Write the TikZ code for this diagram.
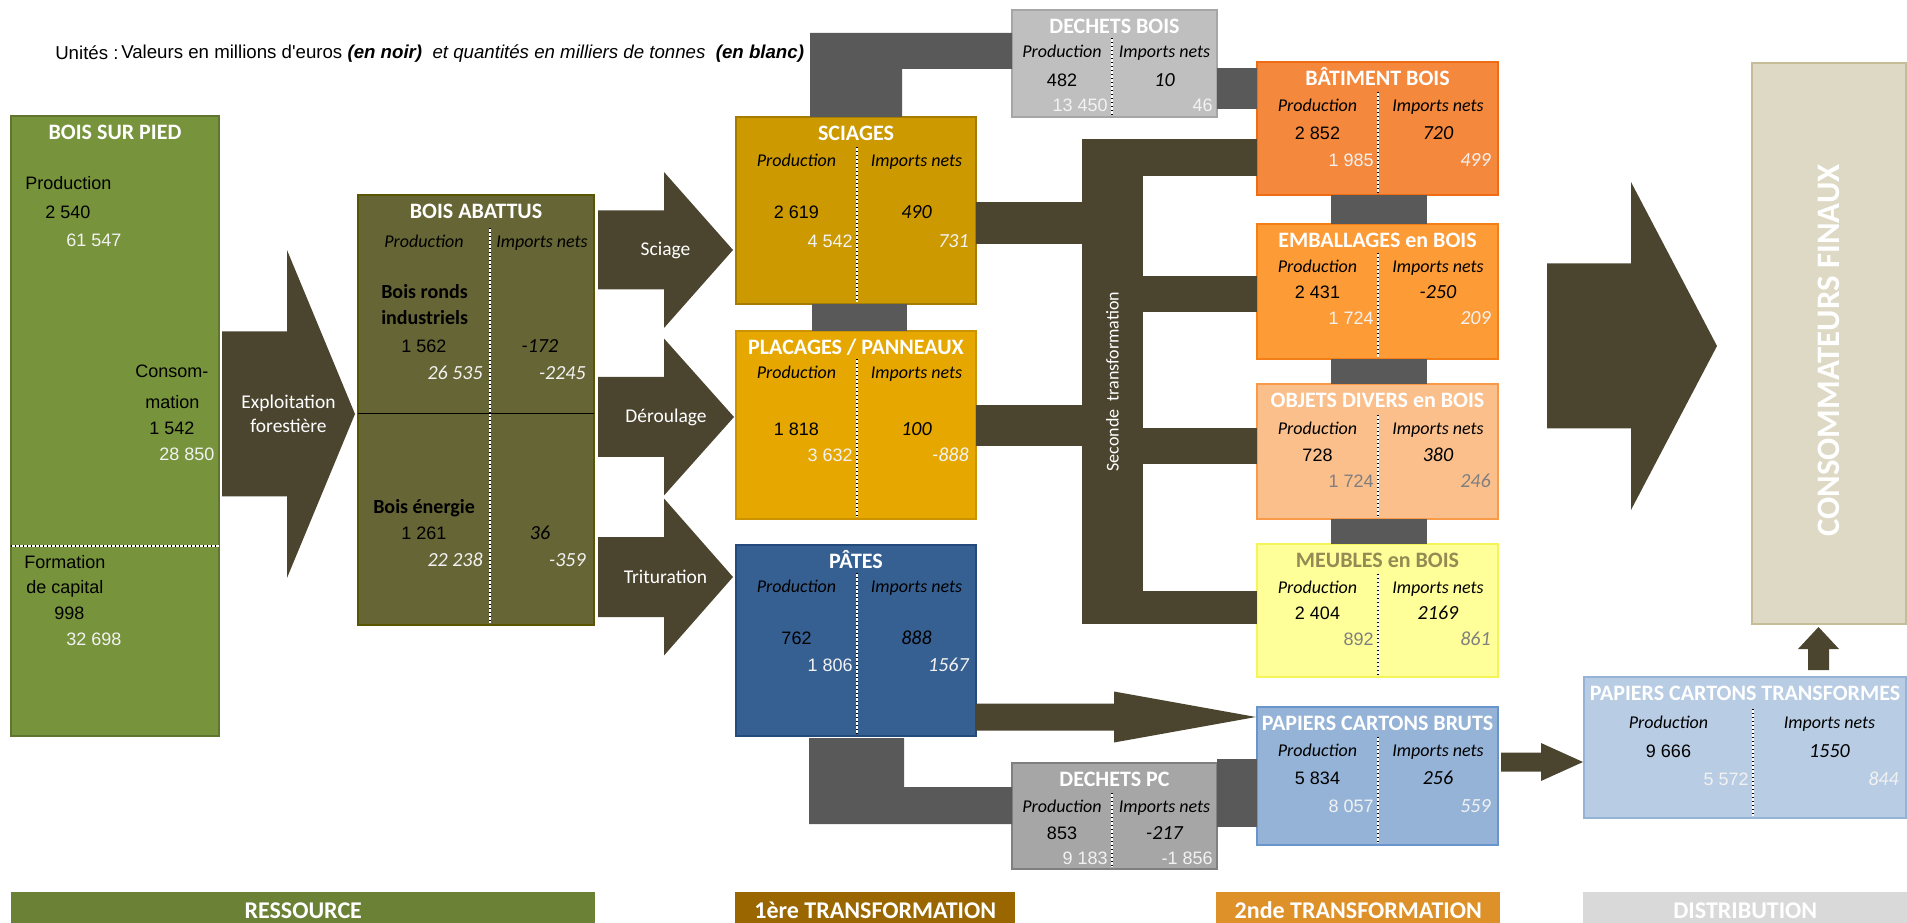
\documentclass[tikz,border=0pt]{standalone}
\usepackage{fontspec}
\setmainfont{Carlito}
\newfontfamily\arial{Liberation Sans}
\usetikzlibrary{calc}

\newcommand{\pxu}{0.75pt}

\definecolor{bspF}{HTML}{77933C}\definecolor{bspD}{HTML}{5F7530}
\definecolor{babF}{HTML}{666535}\definecolor{babD}{HTML}{5A5500}
\definecolor{sciF}{HTML}{CC9900}\definecolor{sciD}{HTML}{A67C00}
\definecolor{plaF}{HTML}{E6A800}\definecolor{plaD}{HTML}{CC9200}
\definecolor{patF}{HTML}{376092}\definecolor{patD}{HTML}{244A7C}
\definecolor{dbF}{HTML}{BFBFBF}\definecolor{dbD}{HTML}{A6A6A6}
\definecolor{dpcF}{HTML}{A6A6A6}\definecolor{dpcD}{HTML}{808080}
\definecolor{batF}{HTML}{F4883D}\definecolor{batD}{HTML}{F06C14}
\definecolor{embF}{HTML}{FD9B37}\definecolor{embD}{HTML}{F57F17}
\definecolor{objF}{HTML}{FBBF8C}\definecolor{objD}{HTML}{F89A47}
\definecolor{meuF}{HTML}{FFFF99}\definecolor{meuD}{HTML}{F5F55A}
\definecolor{pcbF}{HTML}{95B3D7}\definecolor{pcbD}{HTML}{6A95CC}
\definecolor{pctF}{HTML}{B8CCE4}\definecolor{pctD}{HTML}{95B3D7}
\definecolor{consF}{HTML}{DDD9C4}\definecolor{consD}{HTML}{C4BD97}
\definecolor{flowC}{HTML}{4B4530}
\definecolor{gbarC}{HTML}{595959}
\definecolor{meuT}{HTML}{948A54}
\definecolor{liteW}{HTML}{F2F2F2}
\definecolor{liteG}{HTML}{7F7F7F}
\definecolor{resC}{HTML}{6B8236}
\definecolor{trAC}{HTML}{9A6600}
\definecolor{trBC}{HTML}{DE9128}
\definecolor{distC}{HTML}{D9D9D9}
\colorlet{ttlC}{white}
\colorlet{liteC}{liteW}

\tikzstyle{box}=[draw, line width=1.5pt, anchor=north west, inner sep=0pt, outer sep=0pt]
\tikzstyle{ttl}=[text=ttlC, font=\fontsize{16.5}{18}\selectfont\bfseries, anchor=base, yshift=-5.3pt, inner sep=0pt]
\tikzstyle{hd}=[font=\fontsize{13.5}{15}\selectfont\itshape, anchor=base, yshift=-4.35pt, inner sep=0pt]
\tikzstyle{num}=[font=\arial\fontsize{13.5}{15}\selectfont, anchor=base, yshift=-4.8pt, inner sep=0pt]
\tikzstyle{numi}=[font=\fontsize{15}{17}\selectfont\itshape, anchor=base, yshift=-4.8pt, inner sep=0pt]
\tikzstyle{lite}=[num, text=liteC, anchor=base east]
\tikzstyle{litei}=[numi, text=liteC, anchor=base east]
\tikzstyle{limp}=[litei]
\tikzstyle{txt}=[num, anchor=base west]
\tikzstyle{txtl}=[txt, text=liteC]
\tikzstyle{unit}=[font=\arial\fontsize{14}{16}\selectfont, anchor=base west, yshift=-5pt, inner sep=0pt]
\tikzstyle{sub}=[font=\fontsize{15}{17}\selectfont\bfseries, anchor=base west, yshift=-4.8pt, inner sep=0pt]
\tikzstyle{divline}=[preaction={draw=white, line width=1pt}, draw=black, dotted, line width=1pt]
\tikzstyle{gbar}=[fill=gbarC]
\tikzstyle{flow}=[fill=flowC]
\tikzstyle{flowlbl}=[text=white, font=\fontsize{14.6}{18}\selectfont, align=center, inner sep=0pt]
\tikzstyle{trunk}=[fill=flowC, anchor=north west, inner sep=0pt, outer sep=0pt, minimum width=61*\pxu, minimum height=485*\pxu]
\tikzstyle{band}=[anchor=north west, inner sep=0pt, text=white, font=\fontsize{18}{20}\selectfont\bfseries, minimum height=36*\pxu]

% divider, title and column heads of a box
\newcommand{\boxhead}[4]{%
  \coordinate (#1d) at ($(#1.north west)+(#2,0)$);
  \draw[divline] ($(#1d)+(0,#3-14)$) -- ($(#1d |- #1.south)+(0,-2)$);
  \node[ttl] (#1t) at ($(#1.north)+(0,16)$) {#4};
  \node[hd] (#1hp) at ($(#1.north west)!.5!(#1d)+(0,#3)$) {Production};
  \node[hd] (#1hi) at ($(#1d)!.5!(#1.north east)+(0,#3)$) {Imports nets};
}
% values: euros in black, tonnes in light colour
\newcommand{\boxnums}[7]{%
  \node[num] (#1np) at ($(#1.north west)!.5!(#1d)+(0,#2)$) {#4};
  \node[numi] (#1ni) at ($(#1d)!.5!(#1.north east)+(0,#2)$) {#5};
  \node[lite] (#1lp) at ($(#1d)+(-4,#3)$) {#6};
  \node[limp] (#1li) at ($(#1.north east)+(-7,#3)$) {#7};
}
% fat arrow: [label]{name}{tail}{tip}{half shaft}{half head}{head length}
\newcommand{\flow}[7][]{%
  \fill[flowC] let \p1=(#3), \p2=(#4) in
    (\x1,{\y1+#5*\pxu}) -- ({\x2-#7*\pxu},{\y1+#5*\pxu}) -- ({\x2-#7*\pxu},{\y1+#6*\pxu})
    -- (\x2,\y1) -- ({\x2-#7*\pxu},{\y1-#6*\pxu}) -- ({\x2-#7*\pxu},{\y1-#5*\pxu})
    -- (\x1,{\y1-#5*\pxu}) -- cycle;
  \ifx\relax#1\relax\else
    \path let \p1=(#3), \p2=(#4) in node[flowlbl] (#2) at ({(\x1+\x2)/2},\y1) {#1};
  \fi
}

\begin{document}
\begin{tikzpicture}[x=0.75pt, y=-0.75pt]
\useasboundingbox (0,0) rectangle (1907,923);

\node[unit] (unites) at (55,53) {Unités :};
\node[unit] (legende) at (121,52) {Valeurs en millions d'euros \textbf{\textit{(en noir)}}\ \ \textit{et quantités en milliers de tonnes}\ \ \textbf{\textit{(en blanc)}}};

% boxes
\foreach \nm/\x/\y/\w/\h/\col in {bsp/11/116/208/620/bsp, bab/358/195/236/430/bab,
    sci/736/117/240/187/sci, pla/736/331/240/188/pla, pat/736/545/240/191/pat,
    db/1012/10/205/107/db, dpc/1012/763/205/106/dpc,
    bat/1257/62/241/133/bat, emb/1257/224/241/135/emb, obj/1257/384/241/135/obj,
    meu/1257/544/241/133/meu, pcb/1257/707/241/138/pcb,
    pct/1584/677/322/141/pct, cons/1752/63/154/561/cons}
  \node[box, fill=\col F, draw=\col D, minimum width=\w*\pxu, minimum height=\h*\pxu] (\nm) at (\x,\y) {};

% grey links
\fill[gbar] ($(sci.south west)+(76,0)$) rectangle ($(pla.north west)+(171,0)$);
\foreach \a/\b in {bat/emb, emb/obj, obj/meu}
  \fill[gbar] ($(\a.south west)+(74,0)$) rectangle ($(\b.north west)+(170,0)$);
\fill[gbar] (db.east |- 0,68) rectangle (bat.west |- 0,109);
\fill[gbar] (dpc.east |- 0,759) rectangle (pcb.west |- 0,827);
\fill[gbar] ($(sci.north west)+(74,0)$) |- (db.west |- 0,33) -- (db.west |- 0,69)
  -| ($(sci.north west)+(166,0)$) -- cycle;
\fill[gbar] ($(pat.south west)+(73,2)$) -- ($(pat.south west)+(168,2)$) |- (dpc.west |- 0,787)
  -- (dpc.west |- 0,824) -| ($(pat.south west)+(73,2)$) -- cycle;

% flows
\flow[Exploitation\\forestière]{fexp}{$(bsp.east |- 0,414)+(3,0)$}{$(bab.west |- 0,414)+(-3,0)$}{82.5}{164}{68}
\flow[Sciage]{fsci}{$(bab.east |- 0,250)+(4,0)$}{$(sci.west |- 0,250)+(-3,0)$}{39.5}{78}{69}
\flow[Déroulage]{fder}{$(bab.east |- 0,417)+(4,0)$}{$(pla.west |- 0,417)+(-2,0)$}{40}{78.5}{70}
\flow[Trituration]{ftri}{$(bab.east |- 0,577)+(4,0)$}{$(pat.west |- 0,577)+(-3,0)$}{40}{78.5}{69}
\flow{fpat}{$(pat.east |- 0,717)$}{$(pcb.west |- 0,717)+(-1,0)$}{13.5}{25.5}{142}
\flow{fpcb}{$(pcb.east |- 0,762)+(3,0)$}{$(pct.west |- 0,762)+(-1,0)$}{9.5}{19}{42}
\flow{fcons}{$(bat.east |- 0,346)+(49,0)$}{$(cons.west |- 0,346)+(-35,0)$}{82.5}{164}{86}
\fill[flow] let \p1=($(1818.5,0 |- pct.north)+(0,-7)$), \p2=($(1818.5,0 |- cons.south)+(0,3)$) in
  ({\x1-10.5*\pxu},\y1) -- ({\x1-10.5*\pxu},{\y2-22*\pxu}) -- ({\x1-20.5*\pxu},{\y2-22*\pxu})
  -- (\x2,\y2) -- ({\x1+20.5*\pxu},{\y2-22*\pxu}) -- ({\x1+10.5*\pxu},{\y2-22*\pxu})
  -- ({\x1+10.5*\pxu},\y1) -- cycle;

% seconde transformation
\node[trunk] (sec) at (1082,139) {};
\node[flowlbl, font=\fontsize{13.5}{15}\selectfont, rotate=90] (secl) at (sec) {Seconde\ \ transformation};
\fill[flow] (sci.east |- 0,202) rectangle (sec.west |- 0,244);
\fill[flow] (pla.east |- 0,405) rectangle (sec.west |- 0,446);
\fill[flow] (sec.north west) rectangle (bat.west |- 0,176);
\fill[flow] (sec.east |- 0,276) rectangle (emb.west |- 0,312);
\fill[flow] (sec.east |- 0,428) rectangle (obj.west |- 0,464);
\fill[flow] (sec.east |- 0,591) rectangle (meu.west |- 0,624);

% bois sur pied
\node[ttl] (bspt) at (115,132) {BOIS SUR PIED};
\draw[divline] (bsp.west |- 0,546) -- (bsp.east |- 0,546);
\foreach \pos/\nm/\t in {{(25,183)/bspa/Production}, {(45,212)/bspb/2 540},
    {(135,371)/bspc/Consom-}, {(145,402)/bspd/mation}, {(149,428)/bspe/1 542},
    {(24,562)/bspf/Formation}, {(26,587)/bspg/de capital}, {(54,613)/bsph/998}}
  \node[txt] (\nm) at \pos {\t};
\foreach \pos/\nm/\t in {{(66,240)/bspi/61 547}, {(159,454)/bspj/28 850}, {(66,639)/bspk/32 698}}
  \node[txtl] (\nm) at \pos {\t};

% bois abattus
\boxhead{bab}{132}{47}{BOIS ABATTUS}
\draw[black, line width=0.75pt] (bab.west |- 0,414) -- (bab.east |- 0,414);
\node[sub] (baba) at (381,292) {Bois ronds};
\node[sub] (babb) at (381,318) {industriels};
\node[sub] (babc) at (373,507) {Bois énergie};
\foreach \y/\p/\i/\lp/\li in {346/1 562/-172/26 535/-2245, 533/1 261/36/22 238/-359} {
  \node[num] (babp\y) at (424,\y) {\p};
  \node[numi] (babi\y) at (540,\y) {\i};
  \node[litei] (babl\y) at (483,\y+27) {\lp};
  \node[litei] (babm\y) at (586,\y+27) {\li};
}

% premiere transformation
\boxhead{sci}{121}{44}{SCIAGES}
\boxnums{sci}{95}{124}{2 619}{490}{4 542}{731}
\boxhead{pla}{121}{42}{PLACAGES / PANNEAUX}
\boxnums{pla}{98}{124}{1 818}{100}{3 632}{-888}
\boxhead{pat}{121}{42}{PÂTES}
\boxnums{pat}{93}{120}{762}{888}{1 806}{1567}

% dechets
\begin{scope}[limp/.style={lite, xshift=3*\pxu}]
\boxhead{db}{100}{42}{DECHETS BOIS}
\boxnums{db}{70}{95}{482}{10}{13 450}{46}
\boxhead{dpc}{100}{44}{DECHETS PC}
\boxnums{dpc}{70}{95}{853}{-217}{9 183}{-1 856}
\end{scope}

% seconde transformation
\boxhead{bat}{121}{44}{BÂTIMENT BOIS}
\boxnums{bat}{71}{98}{2 852}{720}{1 985}{499}
\boxhead{emb}{121}{43}{EMBALLAGES en BOIS}
\boxnums{emb}{68}{94}{2 431}{-250}{1 724}{209}
\begin{scope}
\colorlet{liteC}{liteG}
\boxhead{obj}{121}{45}{OBJETS DIVERS en BOIS}
\boxnums{obj}{71}{97}{728}{380}{1 724}{246}
\colorlet{ttlC}{meuT}
\boxhead{meu}{121}{44}{MEUBLES en BOIS}
\boxnums{meu}{69}{95}{2 404}{2169}{892}{861}
\end{scope}
\boxhead{pcb}{121}{44}{PAPIERS CARTONS BRUTS}
\boxnums{pcb}{71}{99}{5 834}{256}{8 057}{559}

% distribution
\boxhead{pct}{169}{46}{PAPIERS CARTONS TRANSFORMES}
\boxnums{pct}{74}{102}{9 666}{1550}{5 572}{844}
\node[ttl, anchor=center, yshift=0pt, font=\fontsize{24.6}{26}\selectfont\bfseries, rotate=90] (consl) at (cons) {CONSOMMATEURS FINAUX};

% bandeaux
\foreach \nm/\x/\w/\col/\t in {res/11/584/resC/RESSOURCE, trA/735/280/trAC/1ère TRANSFORMATION,
    trB/1216/284/trBC/2nde TRANSFORMATION, dist/1583/324/distC/DISTRIBUTION}
  \node[band, fill=\col, minimum width=\w*\pxu] (\nm) at (\x,892) {\t};
\end{tikzpicture}
\end{document}
